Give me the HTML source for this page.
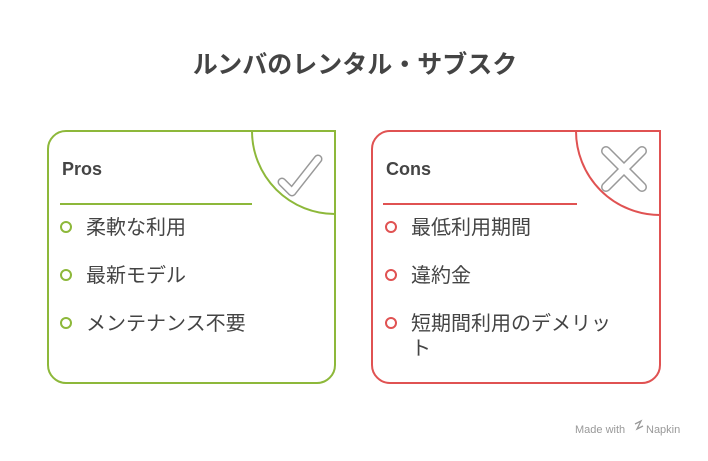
<!DOCTYPE html>
<html><head><meta charset="utf-8"><style>
body{margin:0;width:708px;height:456px;background:#fff;overflow:hidden}
svg text{font-family:"Liberation Sans","Noto Sans CJK JP",sans-serif}
</style></head><body>
<svg width="708" height="456" viewBox="0 0 708 456">
<text x="355" y="73" text-anchor="middle" font-size="25" font-weight="bold" fill="#444">ルンバのレンタル・サブスク</text>
<!-- Pros -->
<path d="M66 131 H335 V365 A18 18 0 0 1 317 383 H66 A18 18 0 0 1 48 365 V149 A18 18 0 0 1 66 131Z" fill="none" stroke="#8DB83A" stroke-width="2"/>
<path d="M252 131 A83 83 0 0 0 335 214" fill="none" stroke="#8DB83A" stroke-width="2"/>
<polyline points="282,182 292,192 318,159" fill="none" stroke="#999" stroke-width="9" stroke-linecap="round" stroke-linejoin="round"/>
<polyline points="282,182 292,192 318,159" fill="none" stroke="#fff" stroke-width="6" stroke-linecap="round" stroke-linejoin="round"/>
<text x="62" y="175" font-size="18" font-weight="bold" fill="#444">Pros</text>
<line x1="60" y1="204" x2="252" y2="204" stroke="#8DB83A" stroke-width="2"/>
<g fill="none" stroke="#8DB83A" stroke-width="2"><circle cx="66" cy="227" r="5"/><circle cx="66" cy="275" r="5"/><circle cx="66" cy="323" r="5"/></g>
<g font-size="20" fill="#444"><text x="86" y="234">柔軟な利用</text><text x="86" y="282">最新モデル</text><text x="86" y="330">メンテナンス不要</text></g>
<!-- Cons -->
<path d="M390 131 H660 V365 A18 18 0 0 1 642 383 H390 A18 18 0 0 1 372 365 V149 A18 18 0 0 1 390 131Z" fill="none" stroke="#E05252" stroke-width="2"/>
<path d="M576 131 A84 84 0 0 0 660 215" fill="none" stroke="#E05252" stroke-width="2"/>
<g stroke-linecap="round"><path d="M606 151 L642 187 M642 151 L606 187" stroke="#999" stroke-width="10"/><path d="M606 151 L642 187 M642 151 L606 187" stroke="#fff" stroke-width="7"/></g>
<text x="386" y="175" font-size="18" font-weight="bold" fill="#444">Cons</text>
<line x1="383" y1="204" x2="577" y2="204" stroke="#E05252" stroke-width="2"/>
<g fill="none" stroke="#E05252" stroke-width="2"><circle cx="391" cy="227" r="5"/><circle cx="391" cy="275" r="5"/><circle cx="391" cy="323" r="5"/></g>
<g font-size="20" fill="#444"><text x="411" y="234">最低利用期間</text><text x="411" y="282">違約金</text><text x="411" y="330">短期間利用のデメリッ</text><text x="411" y="355">ト</text></g>
<text x="575" y="433" font-size="11" fill="#999">Made with</text>
<path d="M635 424 l6 -3 l-4 8 l6 -3" fill="none" stroke="#999" stroke-width="1.3"/>
<text x="646" y="433" font-size="11" fill="#999">Napkin</text>
</svg>
</body></html>
